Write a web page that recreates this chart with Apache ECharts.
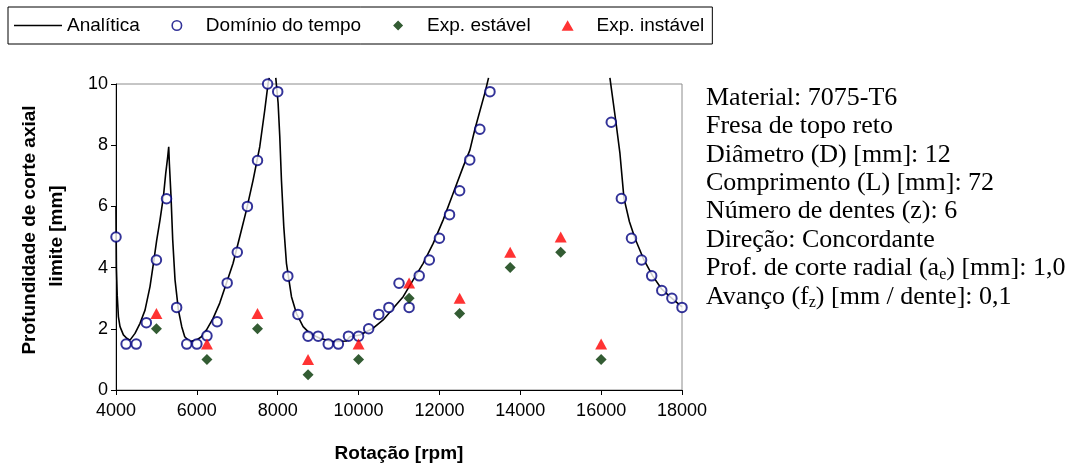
<!DOCTYPE html>
<html>
<head>
<meta charset="utf-8">
<script src="https://cdn.jsdelivr.net/npm/echarts@6/dist/echarts.min.js"></script>
<style>
html, body { margin: 0; padding: 0; background: #fff; }
#chart { width: 1087px; height: 470px; }
</style>
</head>
<body>
<div id="chart"></div>
<script>
// curva analitica (null = quebra da linha, fora da escala)
var analiticaX = [4000, 4010, 4030, 4059, 4099, 4183, 4265, 4346, 4470, 4594, 4718, 4841, 4926, 5007, 5089, 5173, 5230, 5279, 5304, 5320, 5361, 5403, 5460, 5544, 5626, 5700, 5824, 5989, 6113, 6236, 6401, 6566, 6731, 6896, 7061, 7226, 7391, 7556, 7680, 7762, 7791,
    7870,
    7952, 8010, 8051, 8092, 8150, 8216, 8340, 8464, 8628, 8793, 9041, 9371, 9701, 9783, 10031, 10361, 10608, 10856, 11103, 11351, 11598, 11846, 12093, 12340, 12588, 12753, 12877, 13133, 13215,
    14000,
    16217, 16366, 16465, 16564, 16700, 16836, 17059, 17274, 17497, 17702, 18000];
var analiticaY = [6.0, 4.0, 3.1, 2.4, 2.07, 1.8, 1.69, 1.63, 1.85, 2.18, 2.61, 3.38, 4.14, 4.9, 5.56, 6.32, 7.08, 7.62, 7.95, 7.4, 6.32, 4.9, 3.6, 2.61, 2.07, 1.74, 1.58, 1.63, 1.74, 1.96, 2.34, 2.84, 3.49, 4.14, 5.01, 5.88, 6.86, 7.95, 9.15, 10.02, 10.2,
    null,
    10.2, 9.37, 8.28, 6.86, 5.34, 4.14, 3.05, 2.5, 2.07, 1.85, 1.69, 1.58, 1.6, 1.74, 1.8, 2.02, 2.29, 2.67, 3.05, 3.6, 4.14, 4.79, 5.56, 6.43, 7.3, 7.84, 8.52, 9.75, 10.2,
    null,
    10.2, 8.75, 7.73, 6.27, 5.5, 4.96, 4.25, 3.73, 3.3, 3.05, 2.72];

// simulacao no dominio do tempo
var tempoX = [4000, 4250, 4500, 4750, 5000, 5250, 5500, 5750, 6000, 6250, 6500, 6750, 7000, 7250, 7500, 7750, 8000, 8250, 8500, 8750, 9000, 9250, 9500, 9750, 10000, 10250, 10500, 10750, 11000, 11250, 11500, 11750, 12000, 12250, 12500, 12750, 13000, 13250, 16250, 16500, 16750, 17000, 17250, 17500, 17750, 18000];
var tempoY = [5.0, 1.5, 1.5, 2.2, 4.25, 6.25, 2.7, 1.5, 1.5, 1.77, 2.23, 3.5, 4.5, 6.0, 7.5, 10.0, 9.75, 3.72, 2.47, 1.76, 1.76, 1.5, 1.5, 1.76, 1.76, 2.0, 2.47, 2.7, 3.49, 2.7, 3.73, 4.25, 4.96, 5.73, 6.51, 7.52, 8.52, 9.75, 8.75, 6.26, 4.96, 4.25, 3.73, 3.25, 3.0, 2.7];

// ensaios
var estavelX = [5000, 6250, 7500, 8750, 10000, 11250, 12500, 13750, 15000, 16000];
var estavelY = [2.0, 1.0, 2.0, 0.5, 1.0, 3.0, 2.5, 4.0, 4.5, 1.0];
var instavelX = [5000, 6250, 7500, 8750, 10000, 11250, 12500, 13750, 15000, 16000];
var instavelY = [2.5, 1.5, 2.5, 1.0, 1.5, 3.5, 3.0, 4.5, 5.0, 1.5];

var infoLinhas = [
    'Material: 7075-T6',
    'Fresa de topo reto',
    'Diâmetro (D) [mm]: 12',
    'Comprimento (L) [mm]: 72',
    'Número de dentes (z): 6',
    'Direção: Concordante',
    '{a|Prof. de corte radial (a}{s|e}{a|) [mm]: 1,0}',
    '{a|Avanço (f}{s|z}{a|) [mm / dente]: 0,1}'
];

function pares(xs, ys) {
    var r = [];
    for (var i = 0; i < xs.length; i++) {
        r.push([xs[i], ys[i] == null ? '-' : ys[i]]);
    }
    return r;
}

var sans = 'Liberation Sans, Arial, sans-serif';
var serif = 'Liberation Serif, Times New Roman, serif';

// icones da legenda: pontinhos invisiveis nas pontas fixam a caixa em 48x11
var ponta = 'M0,5.5h0.01v0.01h-0.01Z M47.99,5.5h0.01v0.01h-0.01Z ';
var iconeLinha = 'path://M0,4.7h48v1.6h-48Z';
var iconeCirculo = 'path://' + ponta + 'M18.5,5.5A5.5,5.5 0 1,1 29.5,5.5A5.5,5.5 0 1,1 18.5,5.5Z M20.1,5.5A3.9,3.9 0 1,0 27.9,5.5A3.9,3.9 0 1,0 20.1,5.5Z';
var iconeLosango = 'path://' + ponta + 'M19,5.5L24,0.5L29,5.5L24,10.5Z';
var iconeTriangulo = 'path://' + ponta + 'M18,10.5L24,0L30,10.5Z';

var chart = echarts.init(document.getElementById('chart'));

var graficos = [];
// titulo do eixo y, duas linhas
graficos.push({
    type: 'text', x: 30, y: 230, rotation: Math.PI / 2,
    style: { text: 'Profundidade de corte axial', font: 'bold 19px ' + sans, fill: '#000', textAlign: 'center', textVerticalAlign: 'middle' }
});
graficos.push({
    type: 'text', x: 57, y: 236, rotation: Math.PI / 2,
    style: { text: 'limite [mm]', font: 'bold 19px ' + sans, fill: '#000', textAlign: 'center', textVerticalAlign: 'middle' }
});
// texto a direita
for (var i = 0; i < infoLinhas.length; i++) {
    graficos.push({
        type: 'text', x: 706, y: 98 + i * 28.4,
        style: {
            text: infoLinhas[i],
            fill: '#000',
            fontFamily: serif,
            fontSize: 26,
            textVerticalAlign: 'middle',
            rich: {
                a: { fontFamily: serif, fontSize: 26, lineHeight: 28, color: '#000' },
                s: { fontFamily: serif, fontSize: 16, lineHeight: 16, verticalAlign: 'bottom', color: '#000' }
            }
        }
    });
}

var option = {
    animation: false,
    backgroundColor: '#fff',
    legend: {
        left: 8,
        top: 7,
        padding: [9, 8, 9, 6],
        itemGap: 13,
        itemWidth: 48,
        itemHeight: 11,
        borderColor: '#000',
        borderWidth: 1,
        borderRadius: 0,
        backgroundColor: '#fff',
        textStyle: { fontFamily: sans, fontSize: 19, color: '#000' },
        data: [
            { name: 'Analítica', icon: iconeLinha, itemStyle: { color: '#000' } },
            { name: 'Domínio do tempo', icon: iconeCirculo, itemStyle: { color: '#000080', borderWidth: 0 } },
            { name: 'Exp. estável', icon: iconeLosango },
            { name: 'Exp. instável', icon: iconeTriangulo }
        ]
    },
    grid: {
        left: 116,
        right: 405,
        top: 84,
        bottom: 80,
        show: true,
        borderColor: '#8c8c8c',
        borderWidth: 1
    },
    xAxis: {
        type: 'value',
        min: 4000,
        max: 18000,
        interval: 2000,
        name: 'Rotação [rpm]',
        nameLocation: 'middle',
        nameGap: 54,
        nameTextStyle: { fontFamily: sans, fontSize: 19, fontWeight: 'bold', color: '#000' },
        axisLine: { lineStyle: { color: '#000', width: 1 } },
        axisTick: { inside: false, length: 5, lineStyle: { color: '#000' } },
        axisLabel: {
            margin: 12, fontFamily: sans, fontSize: 18, color: '#000',
            formatter: function (v) { return String(v); }
        },
        splitLine: { show: false }
    },
    yAxis: {
        type: 'value',
        min: 0,
        max: 10,
        interval: 2,
        axisLine: { show: true, lineStyle: { color: '#000', width: 1 } },
        axisTick: { show: true, inside: false, length: 5, lineStyle: { color: '#000' } },
        axisLabel: { margin: 8, fontFamily: sans, fontSize: 18, color: '#000' },
        splitLine: { show: false }
    },
    graphic: graficos,
    series: [
        {
            name: 'Analítica',
            type: 'line',
            symbol: 'none',
            connectNulls: false,
            clip: false,
            lineStyle: { color: '#000', width: 1.6 },
            itemStyle: { color: '#000' },
            data: pares(analiticaX, analiticaY),
            z: 2
        },
        {
            name: 'Domínio do tempo',
            type: 'scatter',
            symbol: 'emptyCircle',
            symbolSize: 9.5,
            itemStyle: { color: '#000080', borderColor: '#000080', borderWidth: 1.6 },
            data: pares(tempoX, tempoY),
            z: 3
        },
        {
            name: 'Exp. estável',
            type: 'scatter',
            symbol: 'diamond',
            symbolSize: 11,
            itemStyle: { color: '#003300' },
            data: pares(estavelX, estavelY),
            z: 4
        },
        {
            name: 'Exp. instável',
            type: 'scatter',
            symbol: 'triangle',
            symbolSize: [12, 11],
            itemStyle: { color: '#ff0000' },
            data: pares(instavelX, instavelY),
            z: 5
        }
    ]
};

chart.setOption(option);
</script>
</body>
</html>
